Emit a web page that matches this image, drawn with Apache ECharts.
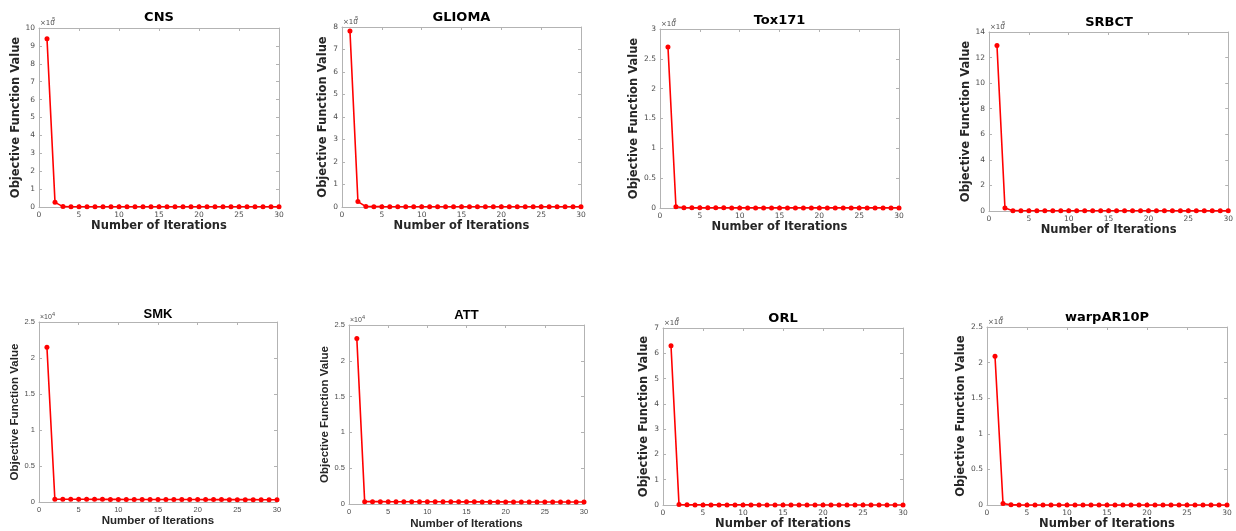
<!DOCTYPE html>
<html>
<head>
<meta charset="utf-8">
<script src="https://cdn.jsdelivr.net/npm/echarts@6/dist/echarts.min.js"></script>
<style>
  html, body { margin: 0; padding: 0; background: #fff; }
  #chart { width: 1236px; height: 531px; }
</style>
</head>
<body>
<div id="chart"></div>
<script>
// iterations on the x axis
const iterations = [1, 2, 3, 4, 5, 6, 7, 8, 9, 10, 11, 12, 13, 14, 15,
  16, 17, 18, 19, 20, 21, 22, 23, 24, 25, 26, 27, 28, 29, 30];
const xTicks = [0, 5, 10, 15, 20, 25, 30];

// objective values
const cnsValues = [940000, 26000, 2100, 1700, 1500, 1400, 1350, 1300, 1260, 1230, 1200, 1180, 1160, 1140, 1120,
  1100, 1090, 1080, 1070, 1060, 1050, 1040, 1030, 1020, 1010, 1000, 990, 985, 980, 975];
const gliomaValues = [782000, 24000, 1900, 1600, 1450, 1380, 1320, 1280, 1240, 1210, 1190, 1170, 1150, 1130, 1110,
  1100, 1090, 1080, 1070, 1060, 1050, 1040, 1030, 1020, 1010, 1000, 995, 990, 985, 980];
const tox171Values = [2700000, 20000, 3500, 2800, 2500, 2300, 2200, 2100, 2050, 2000, 1960, 1930, 1900, 1880, 1860,
  1840, 1820, 1800, 1790, 1780, 1770, 1760, 1750, 1740, 1730, 1720, 1715, 1710, 1705, 1700];
const srbctValues = [1295000, 23000, 2600, 2100, 1900, 1800, 1720, 1660, 1620, 1580, 1550, 1520, 1500, 1480, 1460,
  1440, 1430, 1420, 1410, 1400, 1390, 1380, 1370, 1360, 1350, 1345, 1340, 1335, 1330, 1325];
const smkValues = [21500, 385, 380, 378, 375, 372, 368, 366, 363, 360, 357, 355, 352, 350, 348,
  346, 343, 341, 339, 337, 335, 333, 331, 329, 327, 325, 323, 321, 319, 317];
const attValues = [23100, 330, 327, 325, 322, 320, 318, 315, 313, 310, 308, 306, 304, 302, 300,
  298, 296, 294, 292, 290, 288, 286, 284, 282, 280, 278, 276, 274, 272, 270];
const orlValues = [6300000, 16000, 5200, 4300, 3900, 3600, 3400, 3250, 3150, 3050, 2980, 2920, 2870, 2830, 2790,
  2760, 2730, 2700, 2680, 2660, 2640, 2620, 2600, 2590, 2580, 2570, 2560, 2550, 2540, 2530];
const warpValues = [2090000, 22000, 3200, 2600, 2300, 2150, 2050, 1980, 1920, 1870, 1830, 1800, 1770, 1750, 1730,
  1710, 1690, 1680, 1670, 1660, 1650, 1640, 1630, 1620, 1610, 1600, 1595, 1590, 1585, 1580];

// panel titles, y-axis ranges and the power of ten shown above each axis
const panelNames = ['CNS', 'GLIOMA', 'Tox171', 'SRBCT', 'SMK', 'ATT', 'ORL', 'warpAR10P'];
const panelValues = [cnsValues, gliomaValues, tox171Values, srbctValues, smkValues, attValues, orlValues, warpValues];
const yMaxes = [1000000, 800000, 3000000, 1400000, 25000, 25000, 7000000, 2500000];
const yIntervals = [100000, 100000, 500000, 200000, 5000, 5000, 1000000, 500000];
const yExponents = [5, 5, 6, 5, 4, 4, 6, 6];

// where each panel sits on the page
const boxes = [
  { left: 39, top: 28, width: 240, height: 179, titleY: 18, yGap: 15, xGap: 13, font: 'DejaVu Sans' },
  { left: 342, top: 27, width: 239, height: 180, titleY: 18, yGap: 11, xGap: 12, font: 'DejaVu Sans' },
  { left: 660, top: 29, width: 239, height: 179, titleY: 21, yGap: 17, xGap: 13, font: 'DejaVu Sans' },
  { left: 989, top: 32, width: 240, height: 179, titleY: 23, yGap: 15, xGap: 12, font: 'DejaVu Sans' },
  { left: 39, top: 322, width: 238, height: 180, titleY: 314, yGap: 16, xGap: 13, font: 'Liberation Sans' },
  { left: 349, top: 325, width: 235, height: 180, titleY: 315, yGap: 16, xGap: 14, font: 'Liberation Sans' },
  { left: 663, top: 328, width: 240, height: 179, titleY: 319, yGap: 10, xGap: 13, font: 'DejaVu Sans' },
  { left: 987, top: 327, width: 240, height: 179, titleY: 318, yGap: 18, xGap: 12, font: 'DejaVu Sans' }
];

const frameColor = '#b3b3b3';
const tickTextColor = '#4d4d4d';
const lineRed = '#ff0000';

let chart = echarts.init(document.getElementById('chart'));

let grids = [], xAxes = [], yAxes = [], series = [], texts = [];

panelNames.forEach(function (name, i) {
  let b = boxes[i];
  let exp = yExponents[i];
  grids.push({ left: b.left, top: b.top, width: b.width, height: b.height });

  // onZero off so the mirror axes stay on the top / right of the box
  let lineCfg = { show: true, onZero: false, lineStyle: { color: frameColor, width: 1 } };
  let tickCfg = { show: true, inside: true, length: 3, lineStyle: { color: frameColor } };

  // bottom axis
  xAxes.push({
    gridIndex: i, type: 'value', position: 'bottom',
    min: xTicks[0], max: xTicks[xTicks.length - 1], interval: 5,
    axisLine: lineCfg, axisTick: tickCfg, splitLine: { show: false },
    axisLabel: { color: tickTextColor, fontSize: 7.5, margin: 4, fontFamily: b.font },
    name: 'Number of Iterations', nameLocation: 'middle', nameGap: b.xGap,
    nameTextStyle: { color: '#262626', fontWeight: 'bold', fontSize: 11.5, fontFamily: b.font }
  });
  // top mirror (box)
  xAxes.push({
    gridIndex: i, type: 'value', position: 'top',
    min: xTicks[0], max: xTicks[xTicks.length - 1], interval: 5,
    axisLine: lineCfg, axisTick: tickCfg, splitLine: { show: false },
    axisLabel: { show: false }
  });
  // left axis
  yAxes.push({
    gridIndex: i, type: 'value', position: 'left',
    min: 0, max: yMaxes[i], interval: yIntervals[i],
    axisLine: lineCfg, axisTick: tickCfg, splitLine: { show: false },
    axisLabel: {
      color: tickTextColor, fontSize: 7.5, margin: 4, fontFamily: b.font,
      formatter: function (v) { return String(+(v / Math.pow(10, exp)).toFixed(2)); }
    },
    name: 'Objective Function Value', nameLocation: 'middle', nameGap: b.yGap, nameRotate: 90,
    nameTextStyle: { color: '#262626', fontWeight: 'bold', fontSize: 11.5, fontFamily: b.font }
  });
  // right mirror
  yAxes.push({
    gridIndex: i, type: 'value', position: 'right',
    min: 0, max: yMaxes[i], interval: yIntervals[i],
    axisLine: lineCfg, axisTick: tickCfg, splitLine: { show: false },
    axisLabel: { show: false }
  });

  series.push({
    type: 'line',
    xAxisIndex: i * 2, yAxisIndex: i * 2,
    data: iterations.map(function (it, j) { return [it, panelValues[i][j]]; }),
    symbol: 'circle', symbolSize: 5,
    itemStyle: { color: lineRed },
    lineStyle: { color: lineRed, width: 1.6 },
    animation: false
  });

  // panel title
  texts.push({
    type: 'text', x: b.left + b.width / 2, y: b.titleY,
    style: {
      text: name, fill: '#000', font: 'bold 13px "' + b.font + '"',
      textAlign: 'center', textVerticalAlign: 'middle'
    }
  });
  // x10^n label
  texts.push({
    type: 'text', x: b.left + 1, y: b.top - 1,
    style: {
      text: '\u00d710', fill: tickTextColor, font: '7px "' + b.font + '"',
      textAlign: 'left', textVerticalAlign: 'bottom'
    }
  });
  texts.push({
    type: 'text', x: b.left + 13, y: b.top - 5,
    style: {
      text: String(exp), fill: tickTextColor, font: '5.5px "' + b.font + '"',
      textAlign: 'left', textVerticalAlign: 'bottom'
    }
  });
});

let option = {
  backgroundColor: '#fff',
  animation: false,
  grid: grids,
  xAxis: xAxes,
  yAxis: yAxes,
  series: series,
  graphic: texts
};

chart.setOption(option);
</script>
</body>
</html>
